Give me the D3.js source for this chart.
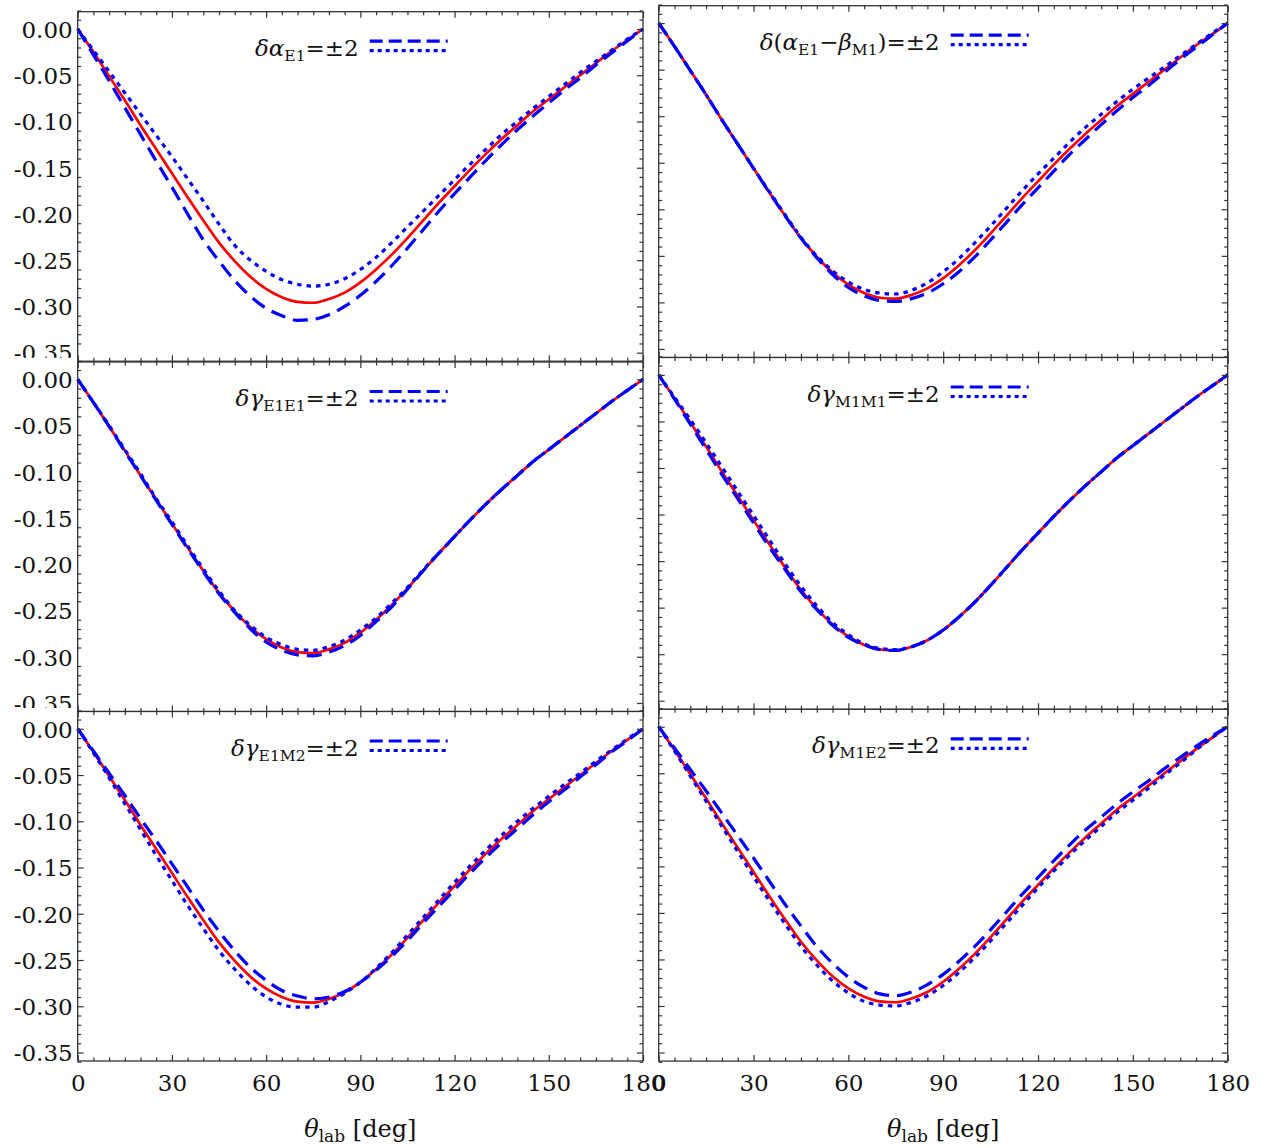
<!DOCTYPE html>
<html><head><meta charset="utf-8">
<script src="https://cdn.jsdelivr.net/npm/d3@7"></script>
<style>body{margin:0;background:#fff} svg{display:block}</style>
</head><body><svg id="c" width="1265" height="1148"></svg>
<script>
// ---------- data ----------
const theta = [0,5,10,15,20,25,30,35,40,45,50,55,60,65,70,75,80,85,90,95,100,105,110,115,120,125,130,135,140,145,150,155,160,165,170,175,180];
const central = [0,-0.025,-0.051,-0.077,-0.104,-0.130,-0.156,-0.182,-0.207,-0.231,-0.251,-0.268,-0.281,-0.290,-0.295,-0.296,-0.292,-0.285,-0.274,-0.260,-0.244,-0.226,-0.207,-0.188,-0.170,-0.152,-0.135,-0.119,-0.104,-0.089,-0.076,-0.063,-0.050,-0.037,-0.024,-0.012,0];
// panel 1: delta alpha_E1
const aE1Dash = [0,-0.028,-0.056,-0.085,-0.114,-0.143,-0.171,-0.200,-0.228,-0.251,-0.272,-0.289,-0.302,-0.310,-0.315,-0.314,-0.309,-0.300,-0.288,-0.273,-0.256,-0.237,-0.217,-0.197,-0.178,-0.160,-0.142,-0.125,-0.109,-0.094,-0.080,-0.066,-0.053,-0.039,-0.026,-0.013,0];
const aE1Dot  = [0,-0.023,-0.046,-0.069,-0.092,-0.115,-0.138,-0.162,-0.186,-0.211,-0.234,-0.250,-0.262,-0.271,-0.276,-0.278,-0.276,-0.270,-0.260,-0.247,-0.231,-0.214,-0.197,-0.180,-0.163,-0.146,-0.130,-0.114,-0.100,-0.086,-0.073,-0.060,-0.047,-0.035,-0.023,-0.011,0];
// panel 2: delta(alpha_E1 - beta_M1)
const abDash = [0,-0.025,-0.051,-0.077,-0.104,-0.130,-0.156,-0.182,-0.207,-0.231,-0.252,-0.270,-0.284,-0.293,-0.298,-0.299,-0.296,-0.290,-0.280,-0.267,-0.251,-0.233,-0.214,-0.195,-0.177,-0.159,-0.141,-0.125,-0.109,-0.094,-0.080,-0.067,-0.053,-0.039,-0.026,-0.013,0];
const abDot  = [0,-0.025,-0.051,-0.077,-0.104,-0.130,-0.156,-0.181,-0.206,-0.230,-0.250,-0.266,-0.278,-0.286,-0.290,-0.291,-0.287,-0.279,-0.267,-0.253,-0.236,-0.218,-0.199,-0.180,-0.162,-0.145,-0.128,-0.112,-0.098,-0.084,-0.071,-0.059,-0.047,-0.035,-0.023,-0.011,0];
// panel 3: gamma_E1E1
const gEEDash = [0,-0.025,-0.051,-0.078,-0.104,-0.131,-0.157,-0.183,-0.208,-0.232,-0.252,-0.270,-0.284,-0.293,-0.298,-0.299,-0.295,-0.288,-0.277,-0.262,-0.246,-0.227,-0.207,-0.188,-0.170,-0.152,-0.135,-0.119,-0.104,-0.089,-0.076,-0.063,-0.050,-0.037,-0.024,-0.012,0];
const gEEDot  = [0,-0.025,-0.050,-0.076,-0.102,-0.129,-0.154,-0.180,-0.205,-0.229,-0.250,-0.266,-0.279,-0.287,-0.292,-0.293,-0.289,-0.282,-0.271,-0.258,-0.242,-0.225,-0.206,-0.188,-0.170,-0.152,-0.135,-0.119,-0.104,-0.089,-0.076,-0.063,-0.050,-0.037,-0.024,-0.012,0];
// panel 4: gamma_M1M1
const gMMDash = [0,-0.026,-0.053,-0.080,-0.107,-0.133,-0.159,-0.185,-0.209,-0.233,-0.252,-0.269,-0.282,-0.290,-0.295,-0.296,-0.292,-0.285,-0.274,-0.260,-0.244,-0.226,-0.207,-0.188,-0.170,-0.152,-0.135,-0.119,-0.104,-0.089,-0.076,-0.063,-0.050,-0.037,-0.024,-0.012,0];
const gMMDot  = [0,-0.024,-0.048,-0.073,-0.099,-0.125,-0.151,-0.177,-0.203,-0.227,-0.248,-0.266,-0.279,-0.289,-0.294,-0.295,-0.292,-0.285,-0.274,-0.260,-0.244,-0.226,-0.207,-0.188,-0.170,-0.152,-0.135,-0.119,-0.104,-0.089,-0.076,-0.063,-0.050,-0.037,-0.024,-0.012,0];
// panel 5: gamma_E1M2
const gEMDash = [0,-0.024,-0.048,-0.072,-0.097,-0.121,-0.146,-0.171,-0.196,-0.219,-0.240,-0.258,-0.272,-0.283,-0.289,-0.292,-0.290,-0.284,-0.274,-0.261,-0.246,-0.229,-0.210,-0.192,-0.174,-0.156,-0.139,-0.123,-0.108,-0.093,-0.079,-0.066,-0.052,-0.039,-0.025,-0.013,0];
const gEMDot  = [0,-0.026,-0.053,-0.081,-0.109,-0.137,-0.164,-0.191,-0.216,-0.240,-0.260,-0.277,-0.290,-0.298,-0.301,-0.301,-0.295,-0.286,-0.274,-0.259,-0.242,-0.223,-0.204,-0.185,-0.166,-0.148,-0.131,-0.115,-0.100,-0.086,-0.073,-0.060,-0.048,-0.035,-0.023,-0.011,0];
// panel 6: gamma_M1E2
const gMEDash = [0,-0.023,-0.046,-0.069,-0.093,-0.117,-0.141,-0.166,-0.191,-0.214,-0.236,-0.254,-0.269,-0.280,-0.287,-0.289,-0.285,-0.277,-0.266,-0.252,-0.236,-0.218,-0.199,-0.180,-0.162,-0.144,-0.127,-0.111,-0.097,-0.083,-0.070,-0.058,-0.045,-0.033,-0.021,-0.010,0];
const gMEDot  = [0,-0.026,-0.053,-0.080,-0.107,-0.134,-0.161,-0.187,-0.212,-0.236,-0.256,-0.273,-0.286,-0.295,-0.299,-0.300,-0.296,-0.289,-0.278,-0.264,-0.248,-0.230,-0.211,-0.192,-0.173,-0.155,-0.138,-0.122,-0.107,-0.092,-0.079,-0.066,-0.052,-0.039,-0.025,-0.012,0];

const xTicks = [0,30,60,90,120,150,180];
const xTickLabels = ["0","30","60","90","120","150","180"];
const yTicks = [0,-0.05,-0.10,-0.15,-0.20,-0.25,-0.30,-0.35];
const yTickLabels = ["0.00","-0.05","-0.10","-0.15","-0.20","-0.25","-0.30","-0.35"];
const xLabelParts = [["θ","it"],["lab","sub"],[" [deg]","up"]];

const legends = [
  [["δα","it"],["E1","sub"],["=±2","up"]],
  [["δ","it"],["(","up"],["α","it"],["E1","sub"],["−","up"],["β","it"],["M1","sub"],[")=±2","up"]],
  [["δγ","it"],["E1E1","sub"],["=±2","up"]],
  [["δγ","it"],["M1M1","sub"],["=±2","up"]],
  [["δγ","it"],["E1M2","sub"],["=±2","up"]],
  [["δγ","it"],["M1E2","sub"],["=±2","up"]]
];
const dashSeries = [aE1Dash, abDash, gEEDash, gMMDash, gEMDash, gMEDash];
const dotSeries  = [aE1Dot,  abDot,  gEEDot,  gMMDot,  gEMDot,  gMEDot];

// ---------- layout ----------
const cols = [
  {x0:77.7, x1:643.0, tops:[11.7,362.0,711.5], h:349.5},
  {x0:658.7, x1:1227.7, tops:[5.7,357.5,709.3], h:351.8}
];
const yDomain = [-0.3592, 0.0187];
const FONT = "'DejaVu Serif', serif";
const svg = d3.select("#c");
const defs = svg.append("defs");

function addRich(textSel, parts, size, subSize){
  let shifted = false;
  parts.forEach(([s,k])=>{
    const t = textSel.append("tspan").text(s);
    if(k==="it"){ t.attr("font-style","italic"); }
    if(k==="sub"){ t.attr("font-size",subSize); if(!shifted){t.attr("dy",5); shifted=true;} }
    else if(shifted){ t.attr("dy",-5); shifted=false; }
  });
}

for(let p=0;p<6;p++){
  const c = p%2, r = Math.floor(p/2);
  const col = cols[c];
  const top = col.tops[r], h = col.h, w = col.x1-col.x0;
  const g = svg.append("g").attr("transform",`translate(${col.x0},${top})`);
  const x = d3.scaleLinear().domain([0,180]).range([0,w]);
  const y = d3.scaleLinear().domain(yDomain).range([h,0]);

  g.append("rect").attr("width",w).attr("height",h).attr("fill","#fff");

  // curves
  const clipId = "clip"+p;
  defs.append("clipPath").attr("id",clipId).append("rect").attr("x",-2).attr("y",0).attr("width",w+4).attr("height",h);
  const cg = g.append("g").attr("clip-path",`url(#${clipId})`);
  const line = d3.line().x((d,i)=>x(theta[i])).y(d=>y(d)).curve(d3.curveMonotoneX);
  cg.append("path").attr("d",line(central)).attr("fill","none").attr("stroke","#ff0000").attr("stroke-width",2.7);
  cg.append("path").attr("d",line(dashSeries[p])).attr("fill","none").attr("stroke","#0000ff").attr("stroke-width",3.2).attr("stroke-dasharray","15,8");
  cg.append("path").attr("d",line(dotSeries[p])).attr("fill","none").attr("stroke","#0000ff").attr("stroke-width",3.2).attr("stroke-dasharray","4.5,5");

  // axes: ticks inward on all four sides
  const xMinor = d3.range(0,181,5).filter(v=>v%30!==0);
  const yMinor = d3.range(-36,3,1).map(v=>v/100).filter(v=>Math.abs(Math.round(v*100))%5!==0);
  const style = sel=>{ sel.selectAll("path.domain").remove(); sel.selectAll("line").attr("stroke","#333").attr("stroke-width",1.2);
                       sel.selectAll("text").attr("font-family",FONT).attr("font-size",23).attr("fill","#111"); };
  const MAJ=6, MIN=3.5;
  [["bottom",h],["top",0]].forEach(([side,ty])=>{
    const ax = side==="bottom"?d3.axisBottom:d3.axisTop;
    const showLab = side==="bottom" && r===2;
    const gm = g.append("g").attr("transform",`translate(0,${ty})`)
      .call(ax(x).tickValues(xTicks).tickSize(-MAJ).tickSizeOuter(0).tickPadding(14)
        .tickFormat((d,i)=>showLab?xTickLabels[i]:""));
    style(gm);
    const gn = g.append("g").attr("transform",`translate(0,${ty})`)
      .call(ax(x).tickValues(xMinor).tickSize(-MIN).tickSizeOuter(0).tickFormat(""));
    style(gn);
  });
  [["left",0],["right",w]].forEach(([side,tx])=>{
    const ax = side==="left"?d3.axisLeft:d3.axisRight;
    const showLab = side==="left" && c===0;
    const gm = g.append("g").attr("transform",`translate(${tx},0)`)
      .call(ax(y).tickValues(yTicks).tickSize(-MAJ).tickSizeOuter(0).tickPadding(5)
        .tickFormat((d,i)=>showLab?yTickLabels[i]:""));
    style(gm);
    gm.selectAll("text").attr("dy","0.36em");
    if(showLab && r<2){
      const lid="lclip"+p;
      defs.append("clipPath").attr("id",lid).append("rect").attr("x",-120).attr("y",-20).attr("width",120).attr("height",h+20-3.5);
      gm.attr("clip-path",`url(#${lid})`);
    }
    const gn = g.append("g").attr("transform",`translate(${tx},0)`)
      .call(ax(y).tickValues(yMinor).tickSize(-MIN).tickSizeOuter(0).tickFormat(""));
    style(gn);
  });
  g.append("rect").attr("width",w).attr("height",h).attr("fill","none").attr("stroke","#333").attr("stroke-width",1.3);

  // legend
  const lt = g.append("text").attr("x",281).attr("y",44).attr("text-anchor","end")
    .attr("font-family",FONT).attr("font-size",23).attr("fill","#111");
  addRich(lt, legends[p], 23, 15.5);
  g.append("line").attr("x1",292).attr("x2",370).attr("y1",29.5).attr("y2",29.5)
    .attr("stroke","#0000ff").attr("stroke-width",3.2).attr("stroke-dasharray","13,6");
  g.append("line").attr("x1",292).attr("x2",370).attr("y1",39).attr("y2",39)
    .attr("stroke","#0000ff").attr("stroke-width",3.2).attr("stroke-dasharray","4,4");

  // x-axis title
  if(r===2){
    const tt = g.append("text").attr("x",w/2).attr("y",h+75.7).attr("text-anchor","middle")
      .attr("font-family",FONT).attr("font-size",24).attr("fill","#111");
    addRich(tt, xLabelParts, 24, 17);
  }
}
</script></body></html>
